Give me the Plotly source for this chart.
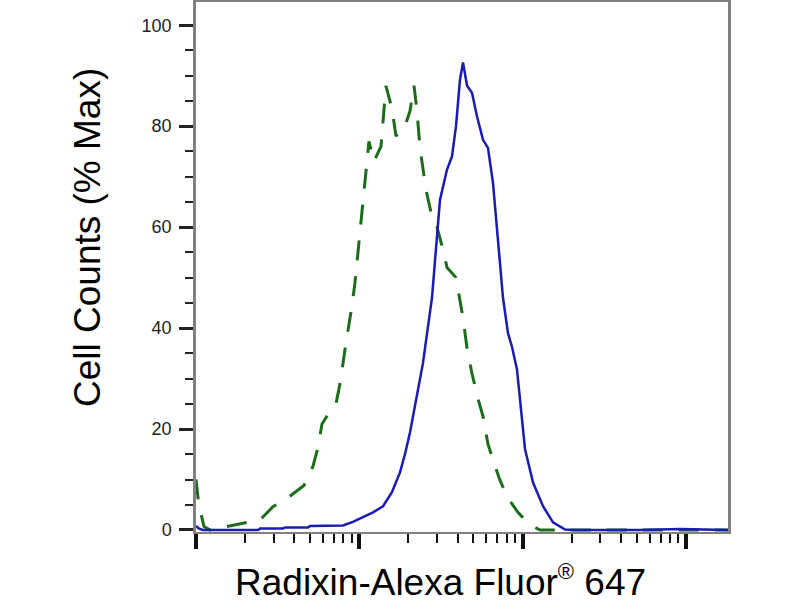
import plotly.graph_objects as go

# Fluorescence intensity (log scale) and % Max cell counts
iso_x = [10, 10.4, 11.2, 12.2, 14.4, 18.1, 21.4, 24.7, 29.6, 36.6, 45.8, 52.0, 55.8, 59.1,
         66.2, 72.0, 76.2, 81.7, 85.3, 90.2, 94.1, 98.2, 102.4, 109.9, 114.6, 123.0, 135.8,
         145.6, 158.5, 167.8, 177.5, 190.4, 204.4, 216.3, 225.6, 235.4, 256.1, 274.6, 299.2,
         325.8, 344.5, 391.1, 408.3, 431.7, 457.0, 489.9, 533.4, 572.4, 613.8, 649.6, 716.6,
         802.0, 937.0, 1035, 1159, 1279, 3000, 8000, 18100]
iso_y = [10, 5, 0.7, 0, 0.5, 1.2, 1.6, 2, 4.6, 6.4, 8.8, 12.6, 16.3, 21,
         23.5, 25, 29, 35.7, 39.3, 44.5, 49, 55, 61, 71, 77, 73, 76,
         88, 83.5, 78, 79.5, 80, 83, 88, 83, 75.7, 67.4, 63, 60,
         55.5, 52, 50, 46.6, 42, 36, 31, 26, 22.5, 17, 14.4, 10.4,
         6.6, 3.5, 2, 0.7, 0, 0, 0, 0]

rdx_x = [10, 10.4, 11.0, 24.0, 24.7, 34.1, 35.1, 48.5, 49.9, 79.4, 91.4, 105.4, 121.4,
         139.7, 158.5, 177.5, 190.4, 204.4, 222.2, 245.3, 278.7, 299.2, 312.0, 344.5,
         369.5, 391.1, 413.6, 431.7, 457.0, 489.9, 526.0, 572.4, 613.8, 658.6, 697.0,
         758.6, 814.0, 861.0, 924.0, 991.5, 1035, 1159, 1334, 1536, 1820, 2094, 5236,
         9200, 16180, 18100]
rdx_y = [0.8, 0.3, 0, 0, 0.3, 0.3, 0.5, 0.5, 0.8, 0.9, 1.6, 2.5, 3.5,
         4.7, 7.5, 11.4, 15, 19.3, 25.8, 33, 46, 58, 65.4, 71.4,
         74, 80, 89.2, 92.6, 88, 86.6, 81.9, 77.3, 75.7, 68.8, 60,
         46, 39, 36.3, 31.8, 22.5, 16, 9.4, 4.7, 1.5, 0.1, 0, 0,
         0.2, 0.1, 0]

y_major = [0, 20, 40, 60, 80, 100]
x_major = [10, 100, 1000, 10000]
x_minor = [m * d for d in (10, 100, 1000, 10000) for m in range(2, 10) if m * d < 18100]

fig = go.Figure()
fig.add_trace(go.Scatter(x=iso_x, y=iso_y, mode="lines",
                         line=dict(color="#1d6b1d", width=3, dash="20px,16px"),
                         showlegend=False))
fig.add_trace(go.Scatter(x=rdx_x, y=rdx_y, mode="lines",
                         line=dict(color="#1a1ab4", width=2.5),
                         showlegend=False))

fig.update_layout(
    width=800, height=600,
    margin=dict(l=196, r=72, t=2, b=68, autoexpand=False),
    paper_bgcolor="white", plot_bgcolor="white",
    font=dict(family="Liberation Sans, Arial, sans-serif", color="#222"),
    xaxis=dict(type="log", range=[1, 4.258], showgrid=False, zeroline=False,
               automargin=False,
               showline=True, linecolor="#808080", linewidth=2, mirror=True,
               ticks="outside", tickmode="array", tickvals=x_major,
               ticklen=15, tickwidth=4, tickcolor="#111", showticklabels=False,
               minor=dict(ticks="outside", tickmode="array", tickvals=x_minor,
                          ticklen=9, tickwidth=2, tickcolor="#111", showgrid=False)),
    yaxis=dict(range=[-0.4, 104.6], showgrid=False, zeroline=False,
               automargin=False,
               showline=True, linecolor="#808080", linewidth=2.5, mirror=True,
               ticks="outside", tickmode="array", tickvals=y_major,
               ticklen=14, tickwidth=3, tickcolor="#222",
               tickfont=dict(size=18, color="#222"), ticklabelstandoff=4,
               minor=dict(ticks="outside", dtick=5, tick0=0, ticklen=8,
                          tickwidth=2, tickcolor="#222", showgrid=False)),
    annotations=[
        dict(text="Cell Counts (% Max)", xref="paper", yref="paper",
             x=(87 - 196) / 532, y=(532 - 238) / 530, textangle=-90, showarrow=False,
             font=dict(size=37, color="black"), xanchor="center", yanchor="middle"),
        dict(text="Radixin-Alexa Fluor<sup><span style='font-size:22px'>®</span></sup> 647",
             xref="paper", yref="paper",
             x=(440 - 196) / 532, y=(532 - 581) / 530, showarrow=False,
             font=dict(size=37, color="black"), xanchor="center", yanchor="middle"),
    ],
)

fig.write_html("out.html", config={"displayModeBar": False},
               post_script="document.body.style.margin='0';document.body.style.padding='0';")
